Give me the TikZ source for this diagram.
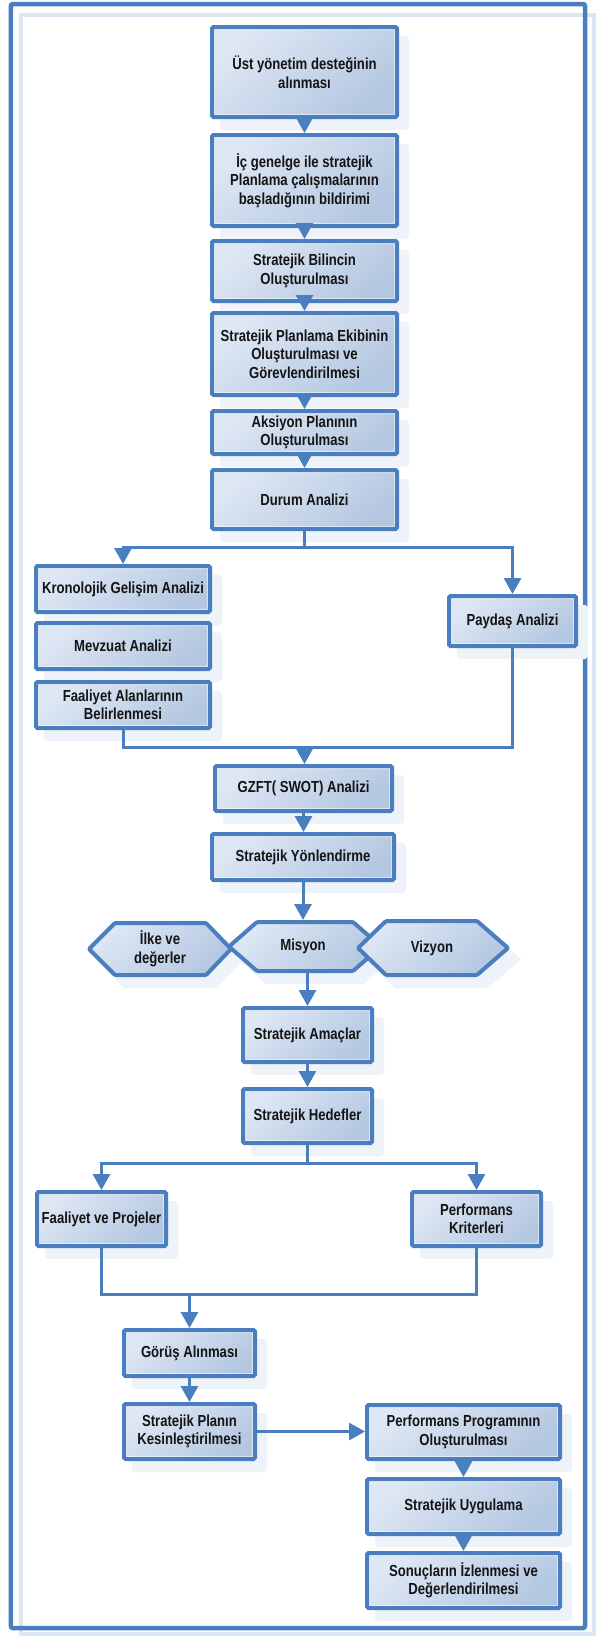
\documentclass[tikz,border=0pt]{standalone}
\usepackage{fontspec}
\setmainfont{Liberation Sans}[FakeStretch=0.82]
\usetikzlibrary{arrows.meta,shadows}
\definecolor{bblue}{HTML}{4A7EBF}
\definecolor{flight}{HTML}{DCE6F2}
\definecolor{shadowc}{HTML}{EEF3FA}
\definecolor{glight}{HTML}{DEE7F4}
\definecolor{gmid}{HTML}{C6D5EA}
\definecolor{gdark}{HTML}{B4C7E1}
\definecolor{txt}{HTML}{141414}
\newcommand\bx[6]{\node[box, minimum width={#4-#2-4}, minimum height={#5-#3-4}] (#1) at ({(#2+#4)/2},{(#3+#5)/2}) {#6};}
\begin{document}
\begin{tikzpicture}[x=1pt,y=-1pt,
  boxfont/.style={font=\fontsize{16}{18.5}\selectfont\bfseries, text=txt, align=center},
  grad/.style={top color=glight, middle color=gmid, bottom color=gdark, shading angle=40},
  box/.style={rectangle, rounded corners=1.5pt, draw=bblue, line width=4pt,
    grad, boxfont, inner sep=1pt,
    path picture={\draw[line width=6pt, white, opacity=0.5] (path picture bounding box.north west) rectangle (path picture bounding box.south east);},
    drop shadow={opacity=1, fill=shadowc, draw=shadowc, line width=4pt, shadow xshift=10pt, shadow yshift=-11pt}},
  hexs/.style={draw=bblue, line width=4pt, grad, rounded corners=1pt, line join=round},
  hexshadow/.style={fill=shadowc, draw=shadowc, line width=4pt},
  hext/.style={rectangle, boxfont, inner sep=0pt, outer sep=0pt},
  conn/.style={draw=bblue, line width=3pt},
  arr/.style={conn, -{Triangle[length=16pt,width=17pt]}},
]
\useasboundingbox (0,0) rectangle (596,1636);
\fill[white] (0,0) rectangle (596,1636);
% frame
\draw[flight, line width=4pt] (20.5,15.3) rectangle (593.5,1634);
\draw[bblue, line width=4.5pt, rounded corners=2pt] (10.8,4) rectangle (585,1628);

\bx{ust}{210}{25}{399}{119}{Üst yönetim desteğinin\\alınması}
\bx{ic}{210}{133}{399}{228}{İç genelge ile stratejik\\Planlama çalışmalarının\\başladığının bildirimi}
\bx{bilinc}{210}{239}{399}{303}{Stratejik Bilincin\\Oluşturulması}
\bx{ekip}{210}{311}{399}{397}{Stratejik Planlama Ekibinin\\Oluşturulması ve\\Görevlendirilmesi}
\bx{aksiyon}{210}{409}{399}{456}{Aksiyon Planının\\Oluşturulması}
\bx{durum}{210}{468}{399}{531}{Durum Analizi}
\bx{kron}{34}{564}{212}{614}{Kronolojik Gelişim Analizi}
\bx{mevzuat}{34}{621}{212}{671}{Mevzuat Analizi}
\bx{falan}{34}{680}{212}{730}{Faaliyet Alanlarının\\Belirlenmesi}
\bx{paydas}{447}{594}{578}{648}{Paydaş Analizi}
\bx{gzft}{213}{764}{394}{813}{GZFT( SWOT) Analizi}
\bx{yonlen}{210}{832}{396}{882}{Stratejik Yönlendirme}

% hexagons
\begin{scope}[shift={(10,11)}]
\path[hexshadow] (89,949) -- (115,923) -- (206,923) -- (231,949) -- (206,975) -- (115,975) -- cycle;
\path[hexshadow] (229,946.5) -- (257,922) -- (353,922) -- (381,946.5) -- (353,971) -- (257,971) -- cycle;
\path[hexshadow] (358,948) -- (386,921) -- (477,921) -- (508,948) -- (477,975) -- (386,975) -- cycle;
\end{scope}
\path[hexs] (89,949) -- (115,923) -- (206,923) -- (231,949) -- (206,975) -- (115,975) -- cycle;
\path[hexs] (229,946.5) -- (257,922) -- (353,922) -- (381,946.5) -- (353,971) -- (257,971) -- cycle;
\path[hexs] (358,948) -- (386,921) -- (477,921) -- (508,948) -- (477,975) -- (386,975) -- cycle;
\node[hext, minimum height=56pt] (ilke) at (160,949) {İlke ve\\değerler};
\node[hext, minimum height=53pt] (misyon) at (303,946.5) {Misyon};
\node[hext, minimum height=58pt] (vizyon) at (432,948) {Vizyon};

\bx{amac}{241}{1006}{374}{1064}{Stratejik Amaçlar}
\bx{hedef}{241}{1087}{374}{1145}{Stratejik Hedefler}
\bx{faproj}{35}{1190}{168}{1248}{Faaliyet ve Projeler}
\bx{perfk}{410}{1190}{543}{1248}{Performans\\Kriterleri}
\bx{gorus}{122}{1328}{257}{1378}{Görüş Alınması}
\bx{splan}{122}{1402}{257}{1461}{Stratejik Planın\\Kesinleştirilmesi}
\bx{pprog}{365}{1403}{562}{1461}{Performans Programının\\Oluşturulması}
\bx{uygul}{365}{1477}{562}{1536}{Stratejik Uygulama}
\bx{sonuc}{365}{1551}{562}{1610}{Sonuçların İzlenmesi ve\\Değerlendirilmesi}

% connectors
\draw[arr] (ust.south) -- (ic.north);
\draw[arr] (ic.south) -- (bilinc.north);
\draw[arr] (bilinc.south) -- (ekip.north);
\draw[arr] (ekip.south) -- (aksiyon.north);
\draw[arr] (aksiyon.south) -- (durum.north);
\coordinate (b1) at (304.5,547);
\draw[conn] (durum.south) -- (b1);
\draw[arr] (b1) -| (kron.north);
\draw[arr] (b1) -| (paydas.north);
\coordinate (m1) at (304.5,747);
\draw[conn] (falan.south) |- (m1);
\draw[conn] (paydas.south) |- (m1);
\draw[arr] (m1) -- (m1 |- gzft.north);
\draw[arr] (gzft.south) -- (gzft.south |- yonlen.north);
\draw[arr] (yonlen.south -| misyon.north) -- (misyon.north);
\draw[arr] (misyon.south -| amac.north) -- (amac.north);
\draw[arr] (amac.south) -- (hedef.north);
\coordinate (b2) at (307.5,1163);
\draw[conn] (hedef.south) -- (b2);
\draw[arr] (b2) -| (faproj.north);
\draw[arr] (b2) -| (perfk.north);
\coordinate (m2) at (189.5,1294);
\draw[conn] (faproj.south) |- (m2);
\draw[conn] (perfk.south) |- (m2);
\draw[arr] (m2) -- (gorus.north);
\draw[arr] (gorus.south) -- (splan.north);
\draw[arr] (splan.east) -- (splan.east -| pprog.west);
\draw[arr] (pprog.south) -- (uygul.north);
\draw[arr] (uygul.south) -- (sonuc.north);
\end{tikzpicture}
\end{document}
